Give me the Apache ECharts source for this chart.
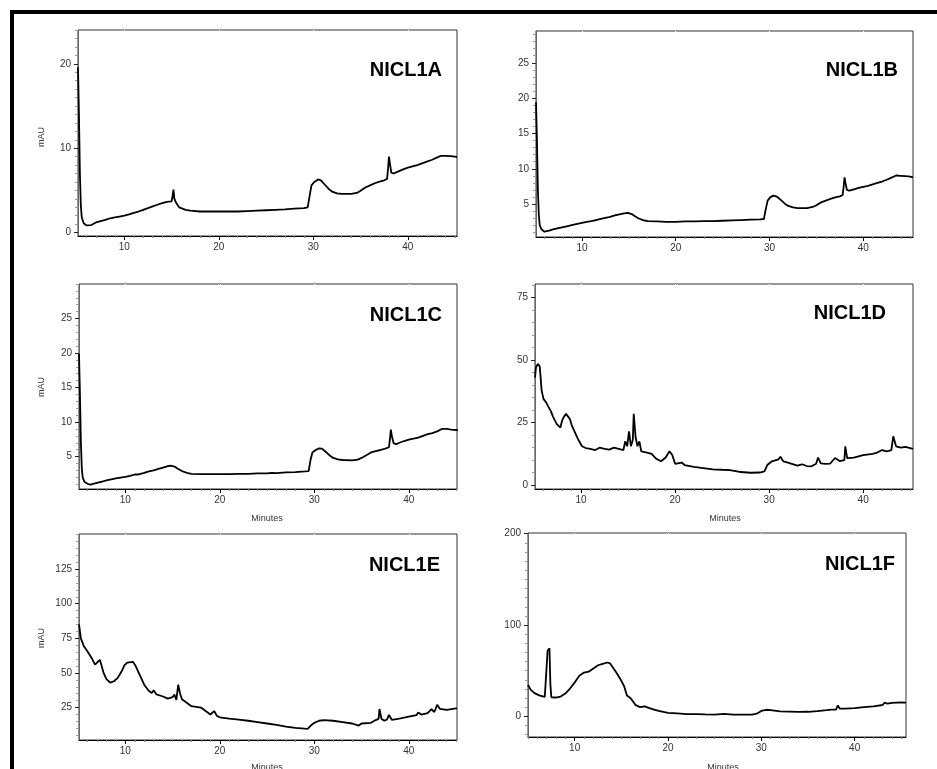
<!DOCTYPE html>
<html>
<head>
<meta charset="UTF-8">
<title>NICL1 chromatograms</title>
<script src="https://cdn.jsdelivr.net/npm/echarts@6/dist/echarts.min.js"></script>
<style>
  body { margin: 0; background: #fff; }
  #main { width: 937px; height: 769px; }
</style>
</head>
<body>
<div id="main"></div>
<script>
// time (min), absorbance (mAU)
var traceA = [[5.1,19.6],[5.2,14],[5.3,7],[5.4,3.2],[5.5,1.8],[5.7,1.1],[6.0,0.85],[6.5,0.9],[7,1.2],[7.5,1.35],[8,1.5],[8.5,1.7],[9,1.8],[9.5,1.9],[10,2.0],[10.5,2.15],[11,2.35],[11.5,2.5],[12,2.7],[12.5,2.9],[13,3.1],[13.5,3.3],[14,3.5],[14.5,3.65],[15,3.7],[15.1,4.3],[15.2,5.1],[15.3,4.0],[15.5,3.5],[15.8,3.0],[16,2.85],[16.5,2.7],[17,2.6],[18,2.5],[19,2.5],[20,2.5],[21,2.5],[22,2.5],[23,2.55],[24,2.6],[25,2.65],[26,2.7],[27,2.75],[28,2.85],[29,2.9],[29.4,3.0],[29.6,4.3],[29.8,5.6],[30.1,6.0],[30.5,6.3],[30.8,6.2],[31.2,5.7],[31.6,5.2],[32,4.85],[32.5,4.65],[33,4.6],[34,4.6],[34.6,4.7],[35,4.95],[35.5,5.35],[36,5.6],[36.5,5.85],[37,6.05],[37.5,6.2],[37.8,6.35],[37.9,7.5],[38,9.0],[38.1,8.2],[38.25,7.1],[38.5,7.0],[39,7.25],[39.5,7.5],[40,7.7],[40.5,7.85],[41,8.0],[41.5,8.2],[42,8.4],[42.5,8.6],[43,8.85],[43.5,9.1],[44,9.1],[44.5,9.05],[45,9.0],[45.2,8.95]];
var traceB = [[5.1,19.4],[5.2,14],[5.3,7],[5.4,3.5],[5.5,2.0],[5.7,1.4],[6.0,1.1],[6.5,1.25],[7,1.45],[7.5,1.6],[8,1.75],[8.5,1.9],[9,2.05],[9.5,2.2],[10,2.35],[10.5,2.5],[11,2.6],[11.5,2.75],[12,2.9],[12.5,3.05],[13,3.2],[13.5,3.4],[14,3.55],[14.5,3.7],[14.9,3.75],[15.3,3.6],[15.7,3.25],[16,3.0],[16.5,2.75],[17,2.6],[18,2.55],[19,2.5],[20,2.5],[21,2.55],[22,2.55],[23,2.6],[24,2.6],[25,2.65],[26,2.7],[27,2.75],[28,2.8],[29,2.85],[29.4,2.9],[29.6,4.3],[29.8,5.5],[30.1,6.0],[30.4,6.2],[30.8,6.05],[31.2,5.6],[31.6,5.1],[32,4.75],[32.5,4.55],[33,4.45],[34,4.45],[34.6,4.6],[35,4.85],[35.5,5.25],[36,5.5],[36.5,5.75],[37,5.95],[37.5,6.1],[37.8,6.3],[37.9,7.4],[38,8.8],[38.1,8.0],[38.25,7.0],[38.5,6.9],[39,7.1],[39.5,7.3],[40,7.45],[40.5,7.6],[41,7.8],[41.5,8.0],[42,8.2],[42.5,8.45],[43,8.75],[43.5,9.05],[44,9.0],[44.5,8.95],[45,8.9],[45.3,8.8]];
var traceC = [[5.1,19.9],[5.2,14],[5.3,7],[5.4,3.2],[5.5,1.9],[5.7,1.3],[6.0,1.05],[6.3,0.95],[7,1.2],[7.5,1.35],[8,1.55],[8.5,1.7],[9,1.85],[9.5,1.95],[10,2.05],[10.5,2.2],[11,2.4],[11.1,2.65],[11.3,2.4],[11.5,2.5],[12,2.65],[12.5,2.85],[13,3.0],[13.5,3.2],[14,3.4],[14.5,3.6],[14.8,3.7],[15.2,3.55],[15.6,3.2],[16,2.9],[16.5,2.65],[17,2.5],[18,2.45],[19,2.45],[20,2.45],[21,2.45],[22,2.5],[23,2.5],[24,2.55],[25,2.55],[25.5,2.65],[26,2.6],[27,2.7],[28,2.75],[29,2.85],[29.4,2.9],[29.6,4.5],[29.8,5.6],[30.1,5.9],[30.5,6.2],[30.8,6.15],[31.2,5.7],[31.6,5.2],[32,4.8],[32.5,4.6],[33,4.5],[34,4.45],[34.6,4.55],[35,4.8],[35.5,5.2],[36,5.6],[36.5,5.8],[37,5.95],[37.5,6.15],[37.9,6.35],[38.0,7.5],[38.1,8.9],[38.2,8.0],[38.4,6.9],[38.7,6.8],[39,7.0],[39.5,7.25],[40,7.45],[40.5,7.6],[41,7.75],[41.5,8.0],[42,8.25],[42.5,8.4],[43,8.65],[43.5,9.0],[44,9.0],[44.5,8.9],[45,8.85],[45.2,8.8]];
var traceD = [[5.1,43],[5.2,47],[5.4,48.5],[5.6,47.5],[5.7,43],[5.8,38],[6.0,34.5],[6.3,33],[6.5,31.5],[6.8,29.5],[7.0,27.5],[7.2,26],[7.4,24.5],[7.6,24],[7.8,23],[8.0,26],[8.2,27.5],[8.4,28.5],[8.6,29],[8.8,26.5],[9.0,24],[9.3,21.5],[9.6,19],[9.8,17.5],[10.1,15.5],[10.5,14.8],[11,14.5],[11.5,14],[12,15],[12.5,14.5],[13,14.2],[13.5,15],[14,14.5],[14.5,14],[14.7,17.5],[14.9,15.5],[15.1,21.5],[15.3,15.5],[15.5,18],[15.6,28.5],[15.8,19],[16.0,15.5],[16.2,17.5],[16.4,13.5],[17,13],[17.5,12.5],[18,10.5],[18.5,9.5],[19,11],[19.4,13.5],[19.7,12],[20,8.5],[20.7,9],[21,8],[22,7.3],[23,6.8],[24,6.3],[25,6.1],[25.8,6.0],[26,6.6],[26.3,5.7],[27,5.2],[28,4.9],[29,5.0],[29.5,5.5],[29.8,8],[30.3,9.5],[31,10.3],[31.2,11.3],[31.5,9.5],[32,9],[33,7.8],[33.5,8.3],[34,7.6],[34.5,7.5],[35,8.5],[35.2,11],[35.5,8.7],[36,8.5],[36.5,8.6],[37,10.8],[37.5,9.6],[38,10],[38.1,15.5],[38.3,10.8],[39,11],[39.5,11.5],[40,12],[41,12.5],[41.5,13],[42,14],[42.5,13.5],[43,14],[43.2,19.5],[43.5,15.5],[44,15],[44.5,15.3],[45,14.8],[45.3,14.5]];
var traceE = [[5.1,85],[5.3,75],[5.6,69.5],[6.0,65.5],[6.5,60],[6.8,56],[7.0,57],[7.3,59.5],[7.5,55],[7.7,50],[8.0,45.5],[8.4,43],[8.8,44],[9.2,46.5],[9.6,51],[9.9,55.5],[10.2,57.5],[10.8,58],[11.1,55],[11.5,49],[12,41.5],[12.5,37],[12.8,35.5],[13,37.5],[13.3,34.5],[14,33],[14.5,31.5],[15,32.5],[15.2,34.5],[15.4,30.5],[15.6,41.5],[15.8,35],[16,31],[16.5,28.5],[17,26],[17.5,25.5],[18,25],[18.5,22.5],[19,20],[19.4,22.5],[19.7,19],[20,18],[21,17],[22,16.3],[23,15.5],[24,14.5],[25,13.5],[26,12.5],[27,11.3],[28,10.3],[29,9.8],[29.3,9.7],[29.7,12.5],[30,14],[30.5,15.5],[31,16],[32,15.5],[33,14.5],[34,13.5],[34.7,12],[35,13.5],[36,14],[36.5,16],[36.8,16.8],[36.9,24],[37.1,17],[37.4,15.5],[37.7,16.5],[37.9,19.7],[38.2,16.2],[39,17],[40,18.5],[40.8,19.5],[41,21.5],[41.3,20],[42,21],[42.4,23.8],[42.7,21.8],[43,27],[43.3,24],[44,23.3],[45,24.5],[45.1,24.5]];
var traceF = [[5.0,34.5],[5.3,29],[5.7,25.5],[6.2,23],[6.8,21.5],[7.0,23.5],[7.1,72],[7.3,74.5],[7.4,35],[7.5,21],[8,20.7],[8.5,21.8],[9,25],[9.5,30.5],[10,37],[10.5,44.5],[11,48],[11.5,49],[12,52.5],[12.5,56],[13,57.5],[13.5,59],[13.8,58],[14,56],[14.5,47.5],[15,39],[15.3,33],[15.6,23],[16,20],[16.5,12.7],[17,10.2],[17.5,11],[18,9],[18.5,7.5],[19,6],[20,3.8],[21,3.3],[22,2.6],[23,2.5],[24,2.2],[25,2],[26,2.7],[27,2],[28,1.9],[29,1.9],[29.5,3],[30,6],[30.5,7.3],[31,6.8],[32,5.6],[33,5.3],[34,4.9],[35,5.1],[36,5.7],[37,6.8],[37.5,7.5],[38,7.5],[38.2,12],[38.4,8.5],[39,8.6],[40,9.2],[41,10.2],[42,11],[43,12.5],[43.2,15],[43.5,14],[44,14.8],[45,15.3],[45.5,15.2]];

var sampleNames = ["NICL1A", "NICL1B", "NICL1C", "NICL1D", "NICL1E", "NICL1F"];
var xTickLabels = [10, 20, 30, 40];
var yTickLabelsA = [0, 10, 20];
var yTickLabelsB = [5, 10, 15, 20, 25];
var yTickLabelsC = [5, 10, 15, 20, 25];
var yTickLabelsD = [0, 25, 50, 75];
var yTickLabelsE = [25, 50, 75, 100, 125];
var yTickLabelsF = [0, 100, 200];

var FONT = "'Liberation Sans', Arial, sans-serif";

// panel layout: grid box, axis extents, minor tick step, title anchor
var panels = [
    {data: traceA, ticks: yTickLabelsA, box: [78, 30, 379, 206], x: [5.1, 45.2], y: [-0.4, 24], minor: 1, title: [442, 70]},
    {data: traceB, ticks: yTickLabelsB, box: [536, 31, 377, 206], x: [5.1, 45.3], y: [0.35, 29.5], minor: 1, title: [898, 70]},
    {data: traceC, ticks: yTickLabelsC, box: [79, 284, 378, 205], x: [5.1, 45.1], y: [0.3, 30], minor: 1, title: [442, 315]},
    {data: traceD, ticks: yTickLabelsD, box: [535, 284, 378, 205], x: [5.1, 45.3], y: [-1.6, 80.5], minor: 5, title: [886, 313]},
    {data: traceE, ticks: yTickLabelsE, box: [79, 534, 378, 206], x: [5.1, 45.1], y: [1.6, 150.3], minor: 5, title: [440, 565]},
    {data: traceF, ticks: yTickLabelsF, box: [528, 533, 378, 204], x: [5.0, 45.5], y: [-22.5, 200.7], minor: 10, title: [895, 564]}
];

function minorValues(lo, hi, step, majors) {
    var out = [];
    var start = Math.ceil(lo / step) * step;
    for (var v = start; v <= hi; v = Math.round((v + step) * 1000) / 1000) {
        if (majors.indexOf(v) < 0) out.push(v);
    }
    return out;
}

var grids = [], xAxes = [], yAxes = [], series = [], graphics = [];

panels.forEach(function (p, i) {
    grids.push({
        left: p.box[0], top: p.box[1], width: p.box[2], height: p.box[3],
        show: true, borderColor: '#333', borderWidth: 1, containLabel: false
    });

    var xMinor = minorValues(p.x[0], p.x[1], 1, xTickLabels);
    // minor ticks on time axis
    xAxes.push({
        type: 'value', gridIndex: i, min: p.x[0], max: p.x[1], position: 'bottom',
        axisLine: {show: true, onZero: false, lineStyle: {color: '#000', width: 1}},
        axisTick: {show: true, customValues: xMinor, length: 2, lineStyle: {color: '#888'}},
        axisLabel: {show: false}, splitLine: {show: false}
    });
    // major ticks + labels
    xAxes.push({
        type: 'value', gridIndex: i, min: p.x[0], max: p.x[1], position: 'bottom',
        axisLine: {show: false, onZero: false},
        axisTick: {show: true, customValues: xTickLabels, length: 4, lineStyle: {color: '#000'}},
        axisLabel: {show: true, customValues: xTickLabels, margin: 6, fontSize: 10, color: '#333', fontFamily: FONT},
        splitLine: {show: false}
    });
    // small white breaks in the top frame at each major minute
    xAxes.push({
        type: 'value', gridIndex: i, min: p.x[0], max: p.x[1], position: 'top',
        axisLine: {show: false, onZero: false},
        axisTick: {show: true, inside: true, customValues: xTickLabels, length: 1, lineStyle: {color: '#fff', width: 1}},
        axisLabel: {show: false}, splitLine: {show: false}
    });

    var yMinor = minorValues(p.y[0], p.y[1], p.minor, p.ticks);
    yAxes.push({
        type: 'value', gridIndex: i, min: p.y[0], max: p.y[1], position: 'left',
        axisLine: {show: true, onZero: false, lineStyle: {color: '#666', width: 1}},
        axisTick: {show: true, customValues: yMinor, length: 3, lineStyle: {color: '#999'}},
        axisLabel: {show: false}, splitLine: {show: false}
    });
    yAxes.push({
        type: 'value', gridIndex: i, min: p.y[0], max: p.y[1], position: 'left',
        axisLine: {show: false, onZero: false},
        axisTick: {show: true, customValues: p.ticks, length: 4, lineStyle: {color: '#222'}},
        axisLabel: {show: true, customValues: p.ticks, margin: 7, fontSize: 10, color: '#333', fontFamily: FONT},
        splitLine: {show: false}
    });

    series.push({
        type: 'line', xAxisIndex: 3 * i, yAxisIndex: 2 * i, data: p.data,
        showSymbol: false, symbol: 'none', clip: true,
        lineStyle: {color: '#000', width: 1.8}
    });

    graphics.push({
        type: 'text', z: 10,
        style: {text: sampleNames[i], x: p.title[0], y: p.title[1], align: 'right', verticalAlign: 'middle',
            font: 'bold 20px ' + FONT, fill: '#000'}
    });
});

// axis captions
var yCaptions = [[42, 137], [42, 387], [42, 638]];
yCaptions.forEach(function (c) {
    graphics.push({
        type: 'text', x: c[0], y: c[1], rotation: Math.PI / 2,
        style: {text: 'mAU', x: 0, y: 0, align: 'center', verticalAlign: 'middle', font: '9px ' + FONT, fill: '#333'}
    });
});
var xCaptions = [[267, 519], [725, 519], [267, 768], [723, 768]];
xCaptions.forEach(function (c) {
    graphics.push({
        type: 'text',
        style: {text: 'Minutes', x: c[0], y: c[1], align: 'center', verticalAlign: 'middle', font: '9px ' + FONT, fill: '#333'}
    });
});

// heavy page border (left and top)
graphics.push({type: 'rect', shape: {x: 10, y: 10, width: 927, height: 4}, style: {fill: '#000'}});
graphics.push({type: 'rect', shape: {x: 10, y: 10, width: 4, height: 759}, style: {fill: '#000'}});

var chart = echarts.init(document.getElementById('main'), null, {renderer: 'canvas'});
chart.setOption({
    animation: false,
    backgroundColor: '#fff',
    grid: grids,
    xAxis: xAxes,
    yAxis: yAxes,
    series: series,
    graphic: graphics
});
</script>
</body>
</html>
